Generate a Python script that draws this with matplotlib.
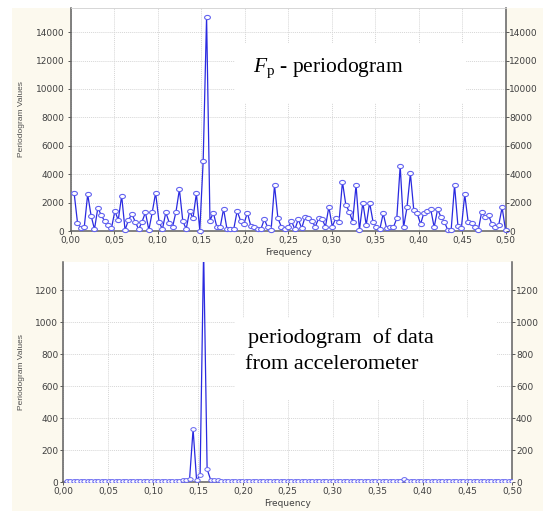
import matplotlib
matplotlib.use("Agg")
import matplotlib.pyplot as plt
from matplotlib.patches import Rectangle
from matplotlib.path import Path
from matplotlib.transforms import Affine2D
from matplotlib.ticker import FuncFormatter, MultipleLocator

# periodogram bins: frequency = k / 256, k = 1..128
n_samples = 256
bin_index = list(range(1, 129))
frequency = [k / n_samples for k in bin_index]

# F_p periodogram
periodogram_fp = [
    2690, 590, 190, 300, 2580, 1080, 120, 1640, 1100, 700,
    420, 190, 1400, 770, 2480, 70, 770, 1190, 650, 120,
    650, 1310, 70, 1310, 2690, 650, 120, 1310, 590, 300,
    1360, 2930, 700, 140, 1400, 900, 2650, 30, 4940, 15100,
    730, 1290, 300, 260, 1550, 140, 140, 140, 1400, 730,
    490, 1290, 370, 260, 140, 140, 820, 260, 70, 3230,
    900, 300, 140, 260, 700, 120, 820, 190, 1000, 900,
    700, 300, 900, 850, 300, 1700, 300, 900, 650, 3460,
    1830, 1360, 650, 3230, 70, 2000, 420, 2000, 650, 300,
    120, 1240, 190, 260, 260, 900, 4590, 260, 1660, 4050,
    1470, 1240, 490, 1290, 1430, 1520, 260, 1520, 1000, 650,
    70, 70, 3230, 350, 190, 2580, 650, 590, 260, 70,
    1360, 1000, 1120, 490, 260, 420, 1660, 70,
]

# accelerometer periodogram
periodogram_acc = [
    9, 7, 8, 6, 8, 7, 9, 6, 7, 8,
    6, 7, 8, 9, 7, 6, 8, 7, 6, 8,
    9, 7, 6, 8, 7, 9, 8, 6, 7, 8,
    9, 7, 8, 10, 14, 18, 330, 10, 45, 1450,
    80, 14, 12, 10, 9, 8, 7, 9, 8, 6,
    7, 8, 9, 7, 6, 8, 7, 9, 8, 6,
    7, 8, 6, 9, 7, 8, 6, 7, 9, 8,
    7, 6, 8, 9, 7, 8, 6, 7, 8, 9,
    7, 6, 8, 7, 9, 8, 6, 7, 8, 7,
    9, 6, 8, 7, 8, 9, 18, 8, 7, 6,
    8, 9, 7, 8, 6, 7, 9, 8, 7, 6,
    8, 7, 9, 6, 8, 7, 8, 9, 7, 6,
    8, 7, 9, 8, 6, 7, 8, 7,
]

x_ticks = [i * 0.05 for i in range(11)]

plt.rcParams["mathtext.fontset"] = "custom"
plt.rcParams["mathtext.rm"] = "Liberation Serif"
plt.rcParams["mathtext.it"] = "Liberation Serif:italic"

W, H = 543, 511
fig = plt.figure(figsize=(W / 100, H / 100), dpi=100)
fig.patch.set_facecolor("white")
fig.patches.append(Rectangle((12 / W, 0), 1 - 12 / W, 1 - 8 / H, transform=fig.transFigure,
                             facecolor="#fcf9ee", edgecolor="none", zorder=-10))

line_col = "#2a2ae0"
marker_edge = "#6464f0"
tick_col = "#404040"
grid_col = "#d6d6d6"

# the original chart is stretched sideways, so the circles come out as ellipses
ellipse = Path.unit_circle().transformed(Affine2D().scale(1.4, 1.0))


def px_axes(left, top, right, bottom):
    return [left / W, 1 - bottom / H, (right - left) / W, (bottom - top) / H]


def comma_fmt(val, pos):
    return "{:.2f}".format(val).replace(".", ",")


def style_panel(ax, ymax, ystep, left_pad, right_pad, ylab_x, xlab_y, show_top):
    ax.set_xlim(0, 0.5)
    ax.set_ylim(0, ymax)
    ax.set_xticks(x_ticks)
    ax.xaxis.set_major_formatter(FuncFormatter(comma_fmt))
    ax.yaxis.set_major_locator(MultipleLocator(ystep))
    ax.set_axisbelow(True)
    ax.grid(True, color=grid_col, linestyle=(0, (1, 1)), linewidth=0.7)
    ax.tick_params(axis="x", length=2, pad=1.3, labelsize=6.5, colors=tick_col, width=0.6)
    ax.tick_params(axis="y", length=2, pad=left_pad, labelsize=6.5, colors=tick_col, width=0.6)
    for lab in ax.get_xticklabels() + ax.get_yticklabels():
        lab.set_family("DejaVu Sans")

    for side in ["left", "right", "bottom"]:
        ax.spines[side].set_color("#606060")
        ax.spines[side].set_linewidth(1.1)
    ax.spines["top"].set_visible(show_top)
    ax.spines["top"].set_color("#d0d0d0")
    ax.spines["top"].set_linewidth(0.6)

    ax.set_xlabel("Frequency", fontsize=6.5, color=tick_col, family="DejaVu Sans")
    ax.xaxis.set_label_coords(0.5, xlab_y)
    ax.set_ylabel("Periodogram Values", fontsize=6, color="#505050", family="Liberation Sans")
    ax.yaxis.set_label_coords(ylab_x, 0.5)

    ax_r = ax.twinx()
    ax_r.set_ylim(0, ymax)
    ax_r.yaxis.set_major_locator(MultipleLocator(ystep))
    ax_r.tick_params(axis="y", length=2, pad=right_pad, labelsize=6.5, colors=tick_col, width=0.6)
    for lab in ax_r.get_yticklabels():
        lab.set_family("DejaVu Sans")
    for side in ["left", "right", "bottom", "top"]:
        ax_r.spines[side].set_visible(False)
    return ax_r


# upper panel
ax1 = fig.add_axes(px_axes(70.7, 8, 505.5, 231))
ax1.set_facecolor("white")
ax1.plot(frequency, periodogram_fp, color=line_col, linewidth=0.9, marker=ellipse,
         markersize=4.2, markerfacecolor="white", markeredgecolor=marker_edge,
         markeredgewidth=0.8, zorder=3, clip_on=False)
style_panel(ax1, 15700, 2000, 2.6, 0.6, -0.105, -0.078, True)
ax1.add_patch(Rectangle((0.378, 0.574), 0.531, 0.269, transform=ax1.transAxes,
                        facecolor="white", edgecolor="none", zorder=1))
ax1.text(0.419, 0.713, r"$F_{\mathrm{p}}$ - periodogram", transform=ax1.transAxes,
         fontsize=15.5, family="Liberation Serif", ha="left", va="baseline", zorder=4)

# lower panel
ax2 = fig.add_axes(px_axes(63.3, 262, 512.3, 482))
ax2.set_facecolor("white")
ax2.plot(frequency, periodogram_acc, color=line_col, linewidth=0.9, marker=ellipse,
         markersize=3.8, markerfacecolor="white", markeredgecolor=marker_edge,
         markeredgewidth=0.7, zorder=3)
style_panel(ax2, 1375, 200, 1.6, 0.6, -0.085, -0.075, False)
ax2.add_patch(Rectangle((0.382, 0.373), 0.584, 0.372, transform=ax2.transAxes,
                        facecolor="white", edgecolor="none", zorder=1))
ax2.text(0.411, 0.633, "periodogram  of data", transform=ax2.transAxes,
         fontsize=16, family="Liberation Serif", ha="left", va="baseline", zorder=4)
ax2.text(0.404, 0.512, "from accelerometer", transform=ax2.transAxes,
         fontsize=16, family="Liberation Serif", ha="left", va="baseline", zorder=4)

fig.savefig("out.png", dpi=100, facecolor=fig.get_facecolor())
